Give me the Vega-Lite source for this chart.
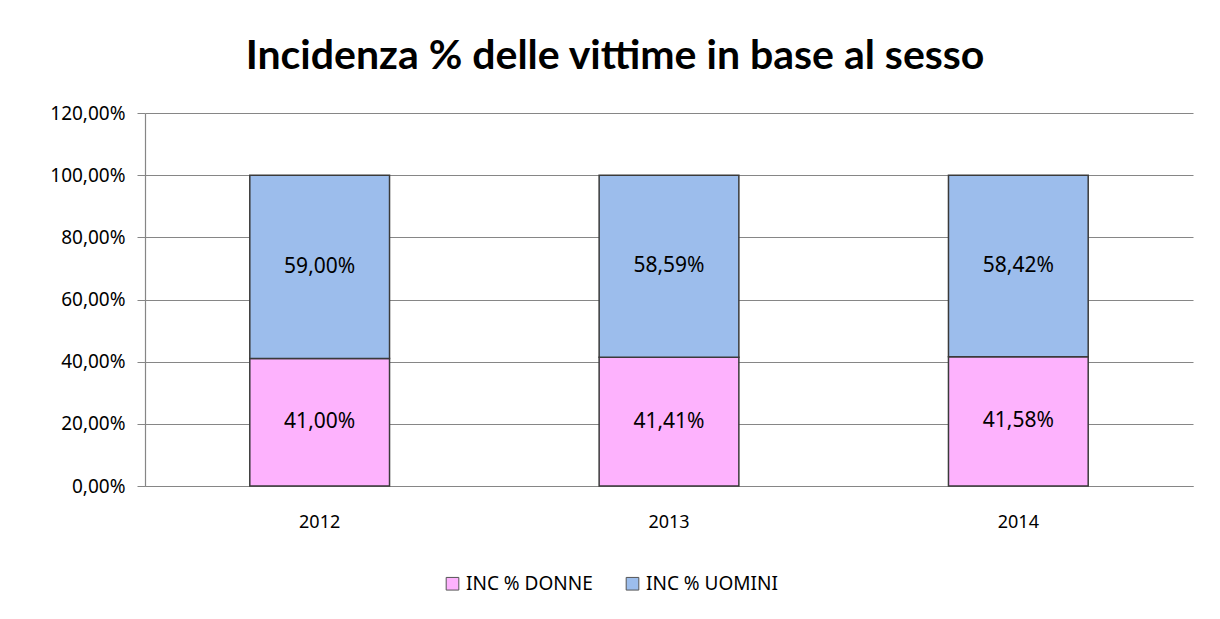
{
  "$schema": "https://vega.github.io/schema/vega-lite/v6.json",
  "width": 1048,
  "height": 373,
  "autosize": {"type": "none"},
  "padding": {"left": 145, "top": 113, "right": 27, "bottom": 133},
  "background": "white",
  "config": {
    "locale": {"number": {"decimal": ",", "thousands": ".", "grouping": [3], "currency": ["", " €"]}},
    "view": {"stroke": null},
    "font": "Noto Sans"
  },
  "title": {
    "text": "Incidenza % delle vittime in base al sesso",
    "font": "Lato",
    "fontSize": 41,
    "fontWeight": "bold",
    "color": "#000000",
    "anchor": "middle",
    "frame": "group",
    "dx": -54,
    "offset": 26
  },
  "data": {
    "values": [
      {"year": "2012", "serie": "INC % DONNE", "ord": 1, "value": 0.41},
      {"year": "2012", "serie": "INC % UOMINI", "ord": 2, "value": 0.59},
      {"year": "2013", "serie": "INC % DONNE", "ord": 1, "value": 0.4141},
      {"year": "2013", "serie": "INC % UOMINI", "ord": 2, "value": 0.5859},
      {"year": "2014", "serie": "INC % DONNE", "ord": 1, "value": 0.4158},
      {"year": "2014", "serie": "INC % UOMINI", "ord": 2, "value": 0.5842}
    ]
  },
  "transform": [
    {"stack": "value", "groupby": ["year"], "sort": [{"field": "ord", "order": "ascending"}], "as": ["y0", "y1"]},
    {"calculate": "(datum.y0 + datum.y1) / 2", "as": "mid"}
  ],
  "encoding": {
    "x": {
      "field": "year",
      "type": "nominal",
      "title": null,
      "scale": {"paddingInner": 0.6, "paddingOuter": 0.3},
      "axis": {
        "labelAngle": 0,
        "labelFontSize": 18,
        "labelColor": "#000000",
        "labelPadding": 27,
        "ticks": false,
        "domainColor": "#868686",
        "domainWidth": 1.2
      }
    }
  },
  "layer": [
    {
      "mark": {"type": "bar", "stroke": "#3a3a3a", "strokeWidth": 1.5},
      "encoding": {
        "y": {
          "field": "y0",
          "type": "quantitative",
          "title": null,
          "scale": {"domain": [0, 1.2]},
          "axis": {
            "values": [0, 0.2, 0.4, 0.6, 0.8, 1.0, 1.2],
            "format": ".2%",
            "labelFontSize": 19,
            "labelColor": "#000000",
            "labelPadding": 12,
            "tickSize": 8,
            "tickColor": "#868686",
            "gridColor": "#868686",
            "gridWidth": 1.2,
            "domainColor": "#868686",
            "domainWidth": 1.2
          }
        },
        "y2": {"field": "y1"},
        "color": {
          "field": "serie",
          "type": "nominal",
          "scale": {"domain": ["INC % DONNE", "INC % UOMINI"], "range": ["#fdb2fd", "#9cbdec"]},
          "legend": {
            "title": null,
            "orient": "none",
            "direction": "horizontal",
            "legendX": 298,
            "legendY": 461,
            "symbolType": "square",
            "symbolSize": 160,
            "symbolStrokeColor": "#555555",
            "symbolStrokeWidth": 1,
            "labelFontSize": 19,
            "labelColor": "#000000",
            "columnPadding": 30
          }
        }
      }
    },
    {
      "mark": {"type": "text", "fontSize": 21, "color": "#000000", "baseline": "middle"},
      "encoding": {
        "y": {"field": "mid", "type": "quantitative"},
        "text": {"field": "value", "type": "quantitative", "format": ".2%"}
      }
    }
  ]
}
